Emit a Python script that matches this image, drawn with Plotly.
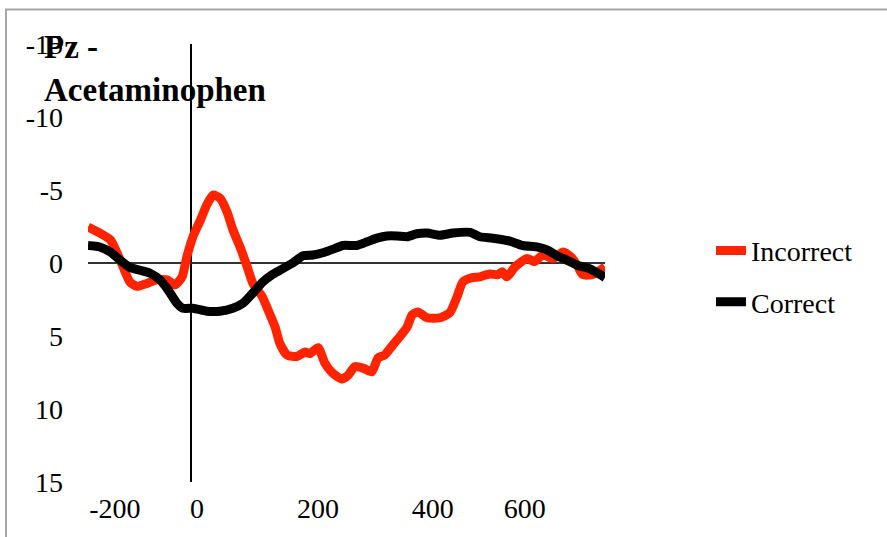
import plotly.graph_objects as go

# ---- data (ms, microvolts) ----
incorrect_t = [-200, -177, -157, -144, -132, -119, -105, -86, -67, -47, -32, -18, -9, 3, 17, 30, 42, 55, 69, 80,
               94, 108, 119, 137, 148, 162, 171, 185, 204, 220, 229, 245, 258, 272, 291, 303, 316, 332, 349, 361,
               374, 390, 403, 417, 427, 438, 456, 481, 500, 514, 525, 543, 558, 577, 593, 601, 610, 626, 649, 664,
               680, 699, 719, 736, 748, 757, 775, 786, 800]
incorrect_v = [-2.47, -2.05, -1.6, -0.7, 0.27, 1.3, 1.6, 1.4, 1.15, 1.15, 1.5, 0.95, -0.4, -1.8, -2.9, -4.0, -4.65, -4.45, -3.5, -2.3,
               -1.1, 0.27, 1.4, 2.3, 3.2, 4.4, 5.5, 6.3, 6.4, 6.1, 6.2, 5.8, 6.85, 7.5, 7.95, 7.7, 7.1, 7.2, 7.45, 6.5,
               6.3, 5.6, 5.05, 4.4, 3.55, 3.35, 3.75, 3.75, 3.4, 2.3, 1.3, 1.0, 0.95, 0.75, 0.8, 0.6, 0.95, 0.27, -0.3, -0.1,
               -0.55, -0.3, -0.75, -0.35, 0.27, 0.8, 0.8, 0.6, 0.27]

correct_t = [-200, -177, -157, -138, -119, -99, -80, -61, -45, -28, -16, 3, 30, 55, 80, 100, 119, 138, 156, 171,
             196, 216, 235, 254, 274, 293, 320, 340, 359, 378, 398, 417, 436, 456, 481, 506, 539, 558, 583, 616,
             641, 668, 688, 707, 726, 746, 771, 786, 800]
correct_v = [-1.2, -1.1, -0.75, -0.2, 0.3, 0.5, 0.7, 1.15, 1.85, 2.75, 3.1, 3.1, 3.3, 3.3, 3.1, 2.75, 2.05, 1.3, 0.8, 0.5,
             0.0, -0.5, -0.55, -0.7, -0.95, -1.2, -1.2, -1.45, -1.7, -1.85, -1.85, -1.8, -2.0, -2.05, -1.9, -2.05, -2.1, -1.8, -1.7, -1.5,
             -1.2, -1.1, -0.9, -0.5, -0.2, 0.15, 0.4, 0.7, 1.0]

series_names = ["Incorrect", "Correct"]
series_colors = ["#ff2400", "#000000"]

y_tick_vals = [-15, -10, -5, 0, 5, 10, 15]
y_tick_text = ["-15", "-10", "-5", "0", "5", "10", "15"]
x_tick_text = ["-200", "0", "200", "400", "600"]
x_tick_pos = [-148, 11, 245, 467, 645]   # where the labels sit in the original

title_text = "<b>Pz -<br>Acetaminophen</b>"

FONT = "Liberation Serif"

fig = go.Figure()
fig.add_trace(go.Scatter(x=incorrect_t, y=incorrect_v, mode="lines", name=series_names[0],
                         line=dict(color=series_colors[0], width=9, shape="spline", smoothing=0.6),
                         legendgroup="a"))
fig.add_trace(go.Scatter(x=correct_t, y=correct_v, mode="lines", name=series_names[1],
                         line=dict(color=series_colors[1], width=9, shape="spline", smoothing=0.6),
                         legendgroup="b"))

fig.update_layout(
    width=887, height=537, autosize=False,
    margin=dict(l=88, r=282, t=44, b=55, pad=0),
    paper_bgcolor="white", plot_bgcolor="white",
    font=dict(family=FONT, size=28, color="black"),
    showlegend=True,
    legend=dict(x=1.205, y=0.585, xanchor="left", yanchor="top", bgcolor="rgba(0,0,0,0)",
                font=dict(family=FONT, size=28), tracegroupgap=12, itemwidth=30),
    xaxis=dict(range=[-200, 800], showgrid=False, showline=False, ticks="",
               zeroline=True, zerolinecolor="black", zerolinewidth=2,
               tickmode="array", tickvals=x_tick_pos, ticktext=x_tick_text,
               ticklabelstandoff=7, tickfont=dict(family=FONT, size=28)),
    yaxis=dict(range=[15, -15], showgrid=False, showline=False, ticks="",
               zeroline=True, zerolinecolor="#333333", zerolinewidth=1.5,
               tickmode="array", tickvals=y_tick_vals, ticktext=y_tick_text,
               ticklabelstandoff=24, tickfont=dict(family=FONT, size=28)),
    shapes=[dict(type="rect", xref="paper", yref="paper",
                 x0=-0.1586, x1=1.6, y0=-0.2, y1=1.0788,
                 line=dict(color="#a6a6a6", width=2), fillcolor="rgba(0,0,0,0)", layer="below")],
    annotations=[dict(text=title_text, xref="paper", yref="paper", x=-0.089, y=1.038,
                      xanchor="left", yanchor="top", align="left", showarrow=False,
                      font=dict(family=FONT, size=33, color="black"))],
)

fig.write_html("out.html")
